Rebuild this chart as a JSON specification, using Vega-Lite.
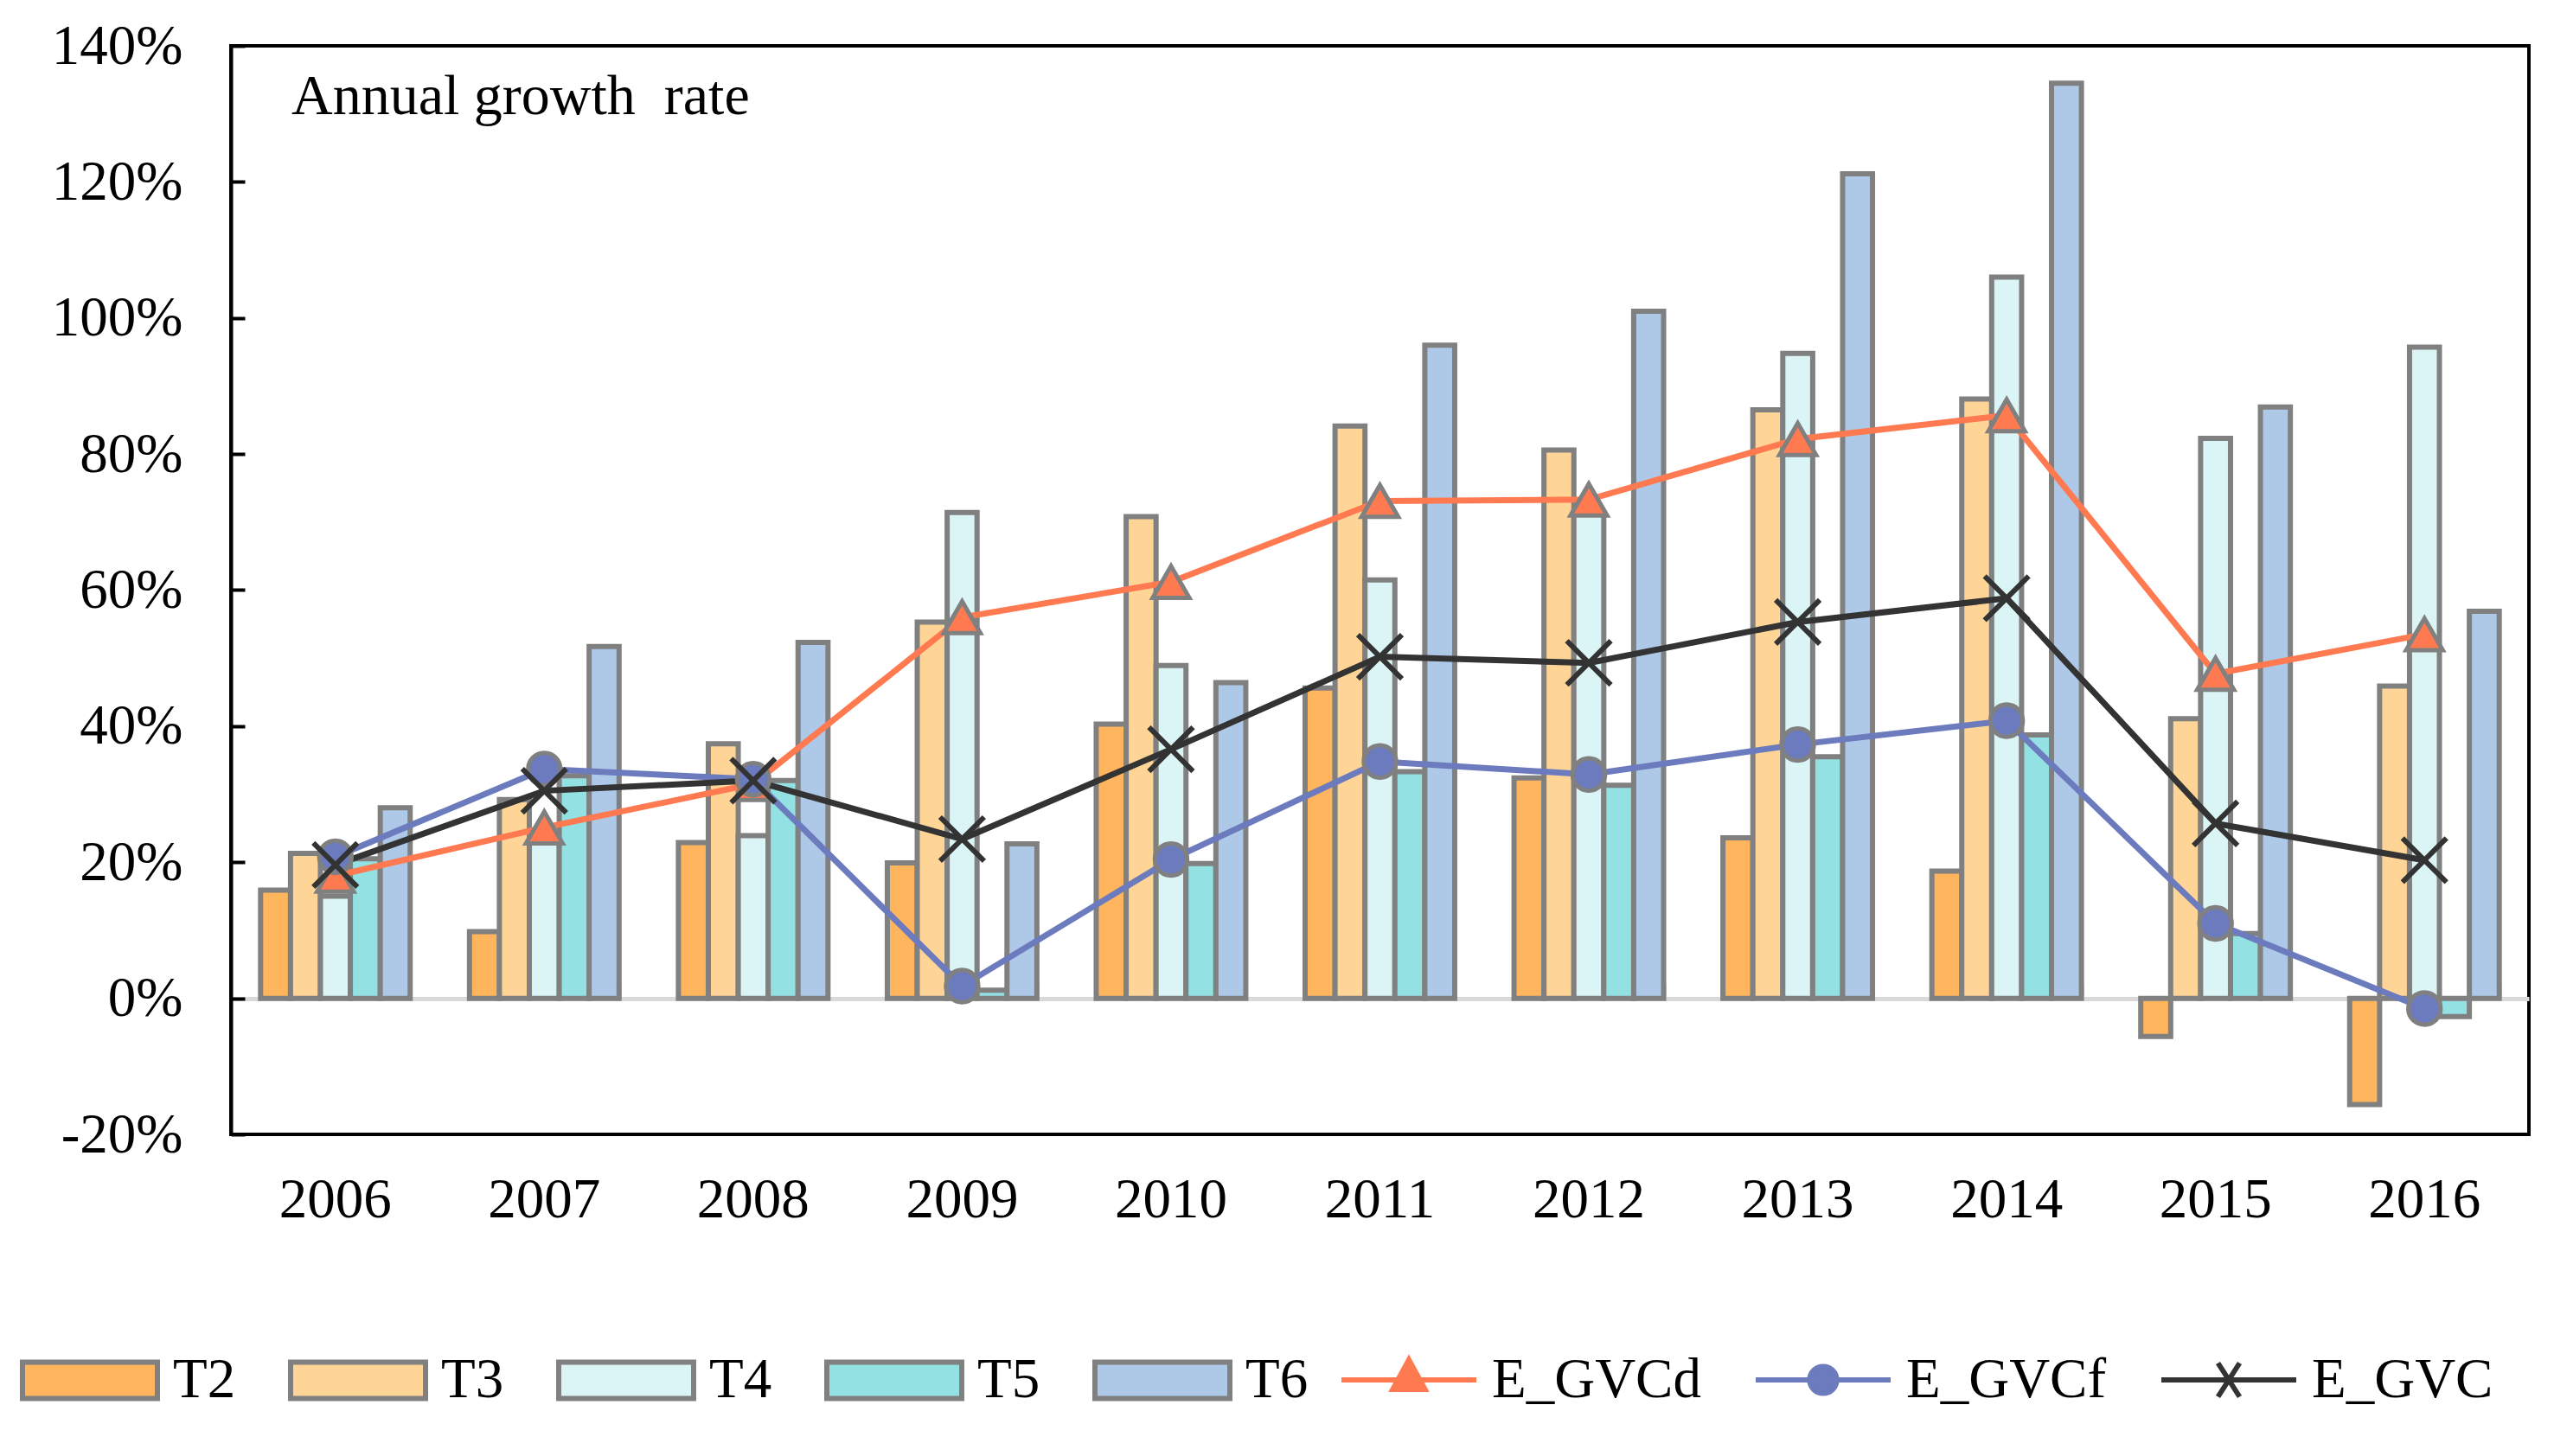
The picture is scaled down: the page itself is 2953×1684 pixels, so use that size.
{
  "$schema": "https://vega.github.io/schema/vega-lite/v6.json",
  "autosize": "none",
  "width": 2657,
  "height": 1259,
  "padding": {"left": 267, "top": 53, "right": 29, "bottom": 372},
  "background": "white",
  "config": {
    "view": {"stroke": "black", "strokeWidth": 4},
    "font": "Liberation Serif",
    "axis": {"labelFont": "Liberation Serif", "labelFontSize": 65, "labelColor": "black", "grid": false},
    "legend": {
      "title": null,
      "orient": "none",
      "legendY": 1462,
      "direction": "horizontal",
      "symbolSize": 24336,
      "symbolStrokeWidth": 6,
      "symbolOpacity": 1,
      "labelFont": "Liberation Serif",
      "labelFontSize": 65,
      "labelColor": "black",
      "labelLimit": 0,
      "labelOffset": 15,
      "columnPadding": 51
    }
  },
  "title": {
    "text": "Annual growth\u00a0 rate",
    "anchor": "start",
    "frame": "group",
    "orient": "top",
    "offset": 0,
    "dx": 70,
    "dy": 177,
    "baseline": "alphabetic",
    "font": "Liberation Serif",
    "fontSize": 66,
    "fontWeight": "normal",
    "color": "black"
  },
  "datasets": {
    "bars": [
      {"year": "2006", "series": "T2", "value": 0.159},
      {"year": "2006", "series": "T3", "value": 0.213},
      {"year": "2006", "series": "T4", "value": 0.150},
      {"year": "2006", "series": "T5", "value": 0.205},
      {"year": "2006", "series": "T6", "value": 0.280},
      {"year": "2007", "series": "T2", "value": 0.098},
      {"year": "2007", "series": "T3", "value": 0.292},
      {"year": "2007", "series": "T4", "value": 0.234},
      {"year": "2007", "series": "T5", "value": 0.327},
      {"year": "2007", "series": "T6", "value": 0.517},
      {"year": "2008", "series": "T2", "value": 0.229},
      {"year": "2008", "series": "T3", "value": 0.374},
      {"year": "2008", "series": "T4", "value": 0.239},
      {"year": "2008", "series": "T5", "value": 0.320},
      {"year": "2008", "series": "T6", "value": 0.523},
      {"year": "2009", "series": "T2", "value": 0.199},
      {"year": "2009", "series": "T3", "value": 0.553},
      {"year": "2009", "series": "T4", "value": 0.714},
      {"year": "2009", "series": "T5", "value": 0.012},
      {"year": "2009", "series": "T6", "value": 0.227},
      {"year": "2010", "series": "T2", "value": 0.403},
      {"year": "2010", "series": "T3", "value": 0.708},
      {"year": "2010", "series": "T4", "value": 0.489},
      {"year": "2010", "series": "T5", "value": 0.198},
      {"year": "2010", "series": "T6", "value": 0.464},
      {"year": "2011", "series": "T2", "value": 0.456},
      {"year": "2011", "series": "T3", "value": 0.841},
      {"year": "2011", "series": "T4", "value": 0.615},
      {"year": "2011", "series": "T5", "value": 0.333},
      {"year": "2011", "series": "T6", "value": 0.960},
      {"year": "2012", "series": "T2", "value": 0.324},
      {"year": "2012", "series": "T3", "value": 0.806},
      {"year": "2012", "series": "T4", "value": 0.714},
      {"year": "2012", "series": "T5", "value": 0.313},
      {"year": "2012", "series": "T6", "value": 1.010},
      {"year": "2013", "series": "T2", "value": 0.236},
      {"year": "2013", "series": "T3", "value": 0.865},
      {"year": "2013", "series": "T4", "value": 0.948},
      {"year": "2013", "series": "T5", "value": 0.355},
      {"year": "2013", "series": "T6", "value": 1.212},
      {"year": "2014", "series": "T2", "value": 0.187},
      {"year": "2014", "series": "T3", "value": 0.881},
      {"year": "2014", "series": "T4", "value": 1.060},
      {"year": "2014", "series": "T5", "value": 0.387},
      {"year": "2014", "series": "T6", "value": 1.345},
      {"year": "2015", "series": "T2", "value": -0.056},
      {"year": "2015", "series": "T3", "value": 0.411},
      {"year": "2015", "series": "T4", "value": 0.823},
      {"year": "2015", "series": "T5", "value": 0.095},
      {"year": "2015", "series": "T6", "value": 0.869},
      {"year": "2016", "series": "T2", "value": -0.156},
      {"year": "2016", "series": "T3", "value": 0.459},
      {"year": "2016", "series": "T4", "value": 0.957},
      {"year": "2016", "series": "T5", "value": -0.027},
      {"year": "2016", "series": "T6", "value": 0.569}
    ],
    "lines": [
      {"year": "2006", "series": "E_GVCd", "value": 0.180},
      {"year": "2007", "series": "E_GVCd", "value": 0.251},
      {"year": "2008", "series": "E_GVCd", "value": 0.315},
      {"year": "2009", "series": "E_GVCd", "value": 0.560},
      {"year": "2010", "series": "E_GVCd", "value": 0.612},
      {"year": "2011", "series": "E_GVCd", "value": 0.731},
      {"year": "2012", "series": "E_GVCd", "value": 0.733},
      {"year": "2013", "series": "E_GVCd", "value": 0.822},
      {"year": "2014", "series": "E_GVCd", "value": 0.857},
      {"year": "2015", "series": "E_GVCd", "value": 0.477},
      {"year": "2016", "series": "E_GVCd", "value": 0.535},
      {"year": "2006", "series": "E_GVCf", "value": 0.208},
      {"year": "2007", "series": "E_GVCf", "value": 0.337},
      {"year": "2008", "series": "E_GVCf", "value": 0.322},
      {"year": "2009", "series": "E_GVCf", "value": 0.018},
      {"year": "2010", "series": "E_GVCf", "value": 0.204},
      {"year": "2011", "series": "E_GVCf", "value": 0.348},
      {"year": "2012", "series": "E_GVCf", "value": 0.329},
      {"year": "2013", "series": "E_GVCf", "value": 0.373},
      {"year": "2014", "series": "E_GVCf", "value": 0.408},
      {"year": "2015", "series": "E_GVCf", "value": 0.110},
      {"year": "2016", "series": "E_GVCf", "value": -0.015},
      {"year": "2006", "series": "E_GVC", "value": 0.196},
      {"year": "2007", "series": "E_GVC", "value": 0.305},
      {"year": "2008", "series": "E_GVC", "value": 0.320},
      {"year": "2009", "series": "E_GVC", "value": 0.234},
      {"year": "2010", "series": "E_GVC", "value": 0.366},
      {"year": "2011", "series": "E_GVC", "value": 0.502},
      {"year": "2012", "series": "E_GVC", "value": 0.493},
      {"year": "2013", "series": "E_GVC", "value": 0.553},
      {"year": "2014", "series": "E_GVC", "value": 0.588},
      {"year": "2015", "series": "E_GVC", "value": 0.257},
      {"year": "2016", "series": "E_GVC", "value": 0.203}
    ]
  },
  "layer": [
    {
      "data": {"name": "bars"},
      "mark": {"type": "bar", "stroke": "#808080", "strokeWidth": 6, "strokeJoin": "miter"},
      "encoding": {
        "x": {
          "field": "year", "type": "nominal",
          "scale": {"paddingInner": 0.284, "paddingOuter": 0.142},
          "axis": {"title": null, "orient": "bottom", "domain": false, "ticks": false, "labelPadding": 44, "labelAngle": 0}
        },
        "xOffset": {
          "field": "series", "type": "nominal",
          "scale": {"domain": ["T2", "T3", "T4", "T5", "T6"], "paddingInner": 0, "paddingOuter": 0}
        },
        "y": {
          "field": "value", "type": "quantitative",
          "scale": {"domain": [-0.2, 1.4], "nice": false, "zero": false},
          "axis": {
            "title": null,
            "orient": "left",
            "values": [-0.2, 0, 0.2, 0.4, 0.6, 0.8, 1.0, 1.2, 1.4],
            "format": ".0%",
            "labelExpr": "replace(datum.label, '\u2212', '-')",
            "domainColor": "black", "domainWidth": 4,
            "ticks": false,
            "labelPadding": 56
          }
        },
        "fill": {
          "field": "series", "type": "nominal",
          "scale": {
            "domain": ["T2", "T3", "T4", "T5", "T6"],
            "range": ["#ffb55e", "#ffd597", "#dbf4f5", "#93e1e3", "#aec8e8"]
          },
          "legend": {
            "legendX": -244,
            "columns": 5,
            "symbolType": "M-1,-0.27H1V0.27H-1Z",
            "symbolStrokeColor": "#808080"
          }
        }
      }
    },
    {
      "data": {"name": "lines"},
      "transform": [{"filter": "datum.series === 'E_GVCd'"}],
      "mark": {"type": "line", "strokeWidth": 7, "stroke": "#ff7a50"},
      "encoding": {
        "x": {
          "field": "year", "type": "nominal",
          "axis": {
            "title": null, "orient": "top", "offset": -1102, "labels": false,
            "domainColor": "#d9d9d9", "domainWidth": 5,
            "ticks": true, "tickColor": "#d9d9d9", "tickWidth": 5, "tickSize": 18, "tickBand": "extent",
            "zindex": 0
          }
        },
        "y": {
          "field": "value", "type": "quantitative",
          "axis": {
            "title": null, "orient": "right", "offset": -2657, "labels": false, "domain": false,
            "values": [-0.2, 0, 0.2, 0.4, 0.6, 0.8, 1.0, 1.2, 1.4],
            "ticks": true, "tickColor": "black", "tickWidth": 4, "tickSize": 16
          }
        }
      }
    },
    {
      "data": {"name": "lines"},
      "transform": [{"filter": "datum.series === 'E_GVCf'"}],
      "mark": {"type": "line", "strokeWidth": 7, "stroke": "#6b7bbd"},
      "encoding": {
        "x": {"field": "year", "type": "nominal", "axis": null},
        "y": {"field": "value", "type": "quantitative", "axis": null}
      }
    },
    {
      "data": {"name": "lines"},
      "transform": [{"filter": "datum.series === 'E_GVC'"}],
      "mark": {"type": "line", "strokeWidth": 7, "stroke": "#333333"},
      "encoding": {
        "x": {"field": "year", "type": "nominal", "axis": null},
        "y": {"field": "value", "type": "quantitative", "axis": null}
      }
    },
    {
      "data": {"name": "lines"},
      "transform": [{"filter": "datum.series === 'E_GVCd'"}],
      "mark": {"type": "point", "shape": "triangle-up", "filled": true, "fill": "#ff7a50", "size": 1800, "stroke": "#808080", "strokeWidth": 5, "opacity": 1},
      "encoding": {
        "x": {"field": "year", "type": "nominal", "axis": null},
        "y": {"field": "value", "type": "quantitative", "axis": null}
      }
    },
    {
      "data": {"name": "lines"},
      "transform": [{"filter": "datum.series === 'E_GVCf'"}],
      "mark": {"type": "point", "shape": "circle", "filled": true, "fill": "#6b7bbd", "size": 1400, "stroke": "#808080", "strokeWidth": 5, "opacity": 1},
      "encoding": {
        "x": {"field": "year", "type": "nominal", "axis": null},
        "y": {"field": "value", "type": "quantitative", "axis": null}
      }
    },
    {
      "data": {"name": "lines"},
      "transform": [{"filter": "datum.series === 'E_GVC'"}],
      "mark": {"type": "point", "shape": "M-1,-1L1,1M1,-1L-1,1", "filled": false, "stroke": "#333333", "size": 2600, "strokeWidth": 6, "opacity": 1},
      "encoding": {
        "x": {"field": "year", "type": "nominal", "axis": null},
        "y": {"field": "value", "type": "quantitative", "axis": null}
      }
    },
    {
      "data": {"name": "lines"},
      "mark": {"type": "point", "filled": true, "opacity": 0},
      "encoding": {
        "x": {"field": "year", "type": "nominal", "axis": null},
        "y": {"field": "value", "type": "quantitative", "axis": null},
        "color": {
          "field": "series", "type": "nominal",
          "scale": {"domain": ["E_GVCd", "E_GVCf", "E_GVC"], "range": ["#ff7a50", "#6b7bbd", "#333333"]},
          "legend": {"legendX": 1281, "columns": 3}
        },
        "stroke": {
          "field": "series", "type": "nominal",
          "scale": {"domain": ["E_GVCd", "E_GVCf", "E_GVC"], "range": ["#ff7a50", "#6b7bbd", "#333333"]},
          "legend": {"legendX": 1281, "columns": 3}
        },
        "shape": {
          "field": "series", "type": "nominal",
          "scale": {
            "domain": ["E_GVCd", "E_GVCf", "E_GVC"],
            "range": [
              "M-1,0H1M0,-0.3L0.24,0.14H-0.24Z",
              "M-1,0H1M0.2,0A0.2,0.2,0,1,1,-0.2,0A0.2,0.2,0,1,1,0.2,0Z",
              "M-1,0H1M-0.16,-0.25L0.16,0.25M0.16,-0.25L-0.16,0.25"
            ]
          },
          "legend": {"legendX": 1281, "columns": 3}
        }
      }
    }
  ],
  "resolve": {"axis": {"x": "independent", "y": "independent"}}
}
